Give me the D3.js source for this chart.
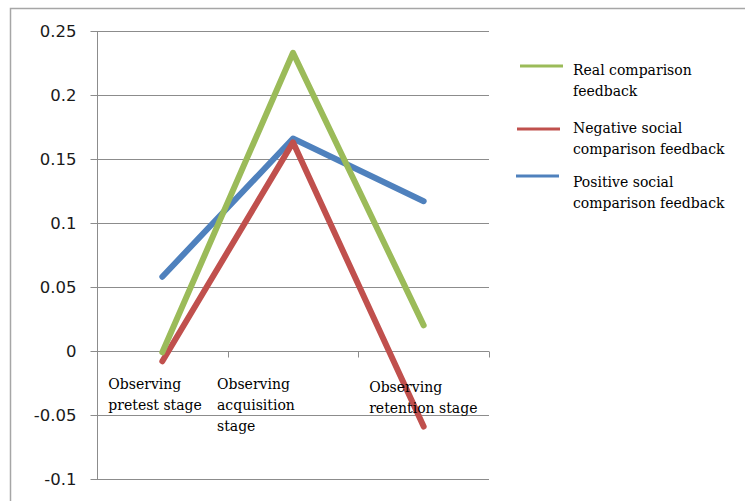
<!DOCTYPE html>
<html>
<head>
<meta charset="utf-8">
<script src="https://cdn.jsdelivr.net/npm/d3@7/dist/d3.min.js"></script>
<style>
  html, body { margin: 0; padding: 0; background: #fff; }
  svg { display: block; }
</style>
</head>
<body>
<svg id="chart" width="745" height="501"></svg>
<script>
// Stages on the category axis
const categories = ["Observing pretest stage", "Observing acquisition stage", "Observing retention stage"];
// Wrapped lines of each stage label
const categoryLines = [
  ["Observing", "pretest stage"],
  ["Observing", "acquisition", "stage"],
  ["Observing", "retention stage"]
];

// Series values per stage
const realValues     = [-0.001, 0.233, 0.020];
const negativeValues = [-0.008, 0.163, -0.059];
const positiveValues = [0.058, 0.166, 0.117];

const seriesNames  = ["Real comparison feedback", "Negative social comparison feedback", "Positive social comparison feedback"];
const legendLines  = [["Real comparison", "feedback"], ["Negative social", "comparison feedback"], ["Positive social", "comparison feedback"]];
const seriesColors = ["#9bbb59", "#c0504d", "#4f81bd"];

// Value axis ticks
const yTicks = [-0.1, -0.05, 0, 0.05, 0.1, 0.15, 0.2, 0.25];
const yTickLabels = ["-0.1", "-0.05", "0", "0.05", "0.1", "0.15", "0.2", "0.25"];

const series = [
  { name: seriesNames[0], values: realValues, color: seriesColors[0] },
  { name: seriesNames[1], values: negativeValues, color: seriesColors[1] },
  { name: seriesNames[2], values: positiveValues, color: seriesColors[2] }
];

// Layout
const plot = { left: 97, right: 489, top: 31, bottom: 479 };
const labelLayout = [
  { dx: -54, y: 389 },
  { dx: -76, y: 389 },
  { dx: -54.5, y: 392 }
];
const legendLayout = [
  { x1: 520, x2: 563, lineY: 66, textY: 75 },
  { x1: 517, x2: 560, lineY: 129, textY: 133 },
  { x1: 516, x2: 559, lineY: 176, textY: 187 }
];
const serif = "'DejaVu Serif', 'Liberation Serif', serif";
const sans = "'DejaVu Sans', 'Liberation Sans', sans-serif";

const svg = d3.select("#chart");

// Chart frame
svg.append("path")
  .attr("d", "M10.5,510 V8.5 H760")
  .attr("fill", "none")
  .attr("stroke", "#a6a6a6")
  .attr("stroke-width", 1.5);

const x = d3.scaleBand().domain(categories).range([plot.left, plot.right]).paddingInner(0).paddingOuter(0);
const y = d3.scaleLinear().domain([-0.1, 0.25]).range([plot.bottom, plot.top]);
const cx = c => x(c) + x.bandwidth() / 2;

// Horizontal gridlines
svg.append("g")
  .selectAll("line")
  .data(yTicks)
  .join("line")
  .attr("x1", plot.left)
  .attr("x2", plot.right)
  .attr("y1", d => Math.round(y(d)) + 0.5)
  .attr("y2", d => Math.round(y(d)) + 0.5)
  .attr("stroke", "#8c8c8c")
  .attr("stroke-width", 1);

// Value axis
const yAxis = d3.axisLeft(y)
  .tickValues(yTicks)
  .tickFormat((d, i) => yTickLabels[i])
  .tickSize(7)
  .tickPadding(14);
const yG = svg.append("g")
  .attr("transform", `translate(${plot.left + 0.5},0)`)
  .call(yAxis);
yG.select(".domain").attr("stroke", "#8c8c8c").attr("d", `M0,${plot.top}V${plot.bottom + 0.5}`);
yG.selectAll(".tick line").attr("stroke", "#8c8c8c");
yG.selectAll(".tick").attr("transform", d => `translate(0,${Math.round(y(d)) + 0.5})`);
yG.selectAll(".tick text")
  .attr("font-family", sans)
  .attr("font-size", 16.5)
  .attr("fill", "#1a1a1a")
  .attr("dy", "0.35em");

// Category axis along zero, with ticks at band boundaries
const zeroY = Math.round(y(0)) + 0.5;
const boundaries = categories.map(c => x(c)).concat([x.range()[1]]);
svg.append("g")
  .selectAll("line")
  .data(boundaries)
  .join("line")
  .attr("x1", d => Math.round(d) + 0.5)
  .attr("x2", d => Math.round(d) + 0.5)
  .attr("y1", zeroY)
  .attr("y2", zeroY + 6)
  .attr("stroke", "#8c8c8c");

// Series lines (drawn last-to-first so the first series sits on top)
const line = d3.line()
  .x((d, i) => cx(categories[i]))
  .y(d => y(d));
svg.append("g")
  .selectAll("path")
  .data(series.slice().reverse())
  .join("path")
  .attr("d", d => line(d.values))
  .attr("fill", "none")
  .attr("stroke", d => d.color)
  .attr("stroke-width", 6)
  .attr("stroke-linecap", "round")
  .attr("stroke-linejoin", "round");

// Category labels, written over the lines
const catG = svg.append("g")
  .attr("font-family", serif)
  .attr("font-size", 14)
  .attr("fill", "#000");
categories.forEach((c, i) => {
  const t = catG.append("text")
    .attr("x", cx(c) + labelLayout[i].dx)
    .attr("y", labelLayout[i].y);
  categoryLines[i].forEach((ln, j) => {
    t.append("tspan")
      .attr("x", cx(c) + labelLayout[i].dx)
      .attr("dy", j === 0 ? 0 : 21)
      .text(ln);
  });
});

// Legend
const legG = svg.append("g")
  .attr("font-family", serif)
  .attr("font-size", 14)
  .attr("fill", "#000");
series.forEach((s, i) => {
  const L = legendLayout[i];
  legG.append("line")
    .attr("x1", L.x1).attr("x2", L.x2)
    .attr("y1", L.lineY).attr("y2", L.lineY)
    .attr("stroke", s.color)
    .attr("stroke-width", 3);
  const t = legG.append("text").attr("x", 573).attr("y", L.textY);
  legendLines[i].forEach((ln, j) => {
    t.append("tspan").attr("x", 573).attr("dy", j === 0 ? 0 : 21).text(ln);
  });
});
</script>
</body>
</html>
